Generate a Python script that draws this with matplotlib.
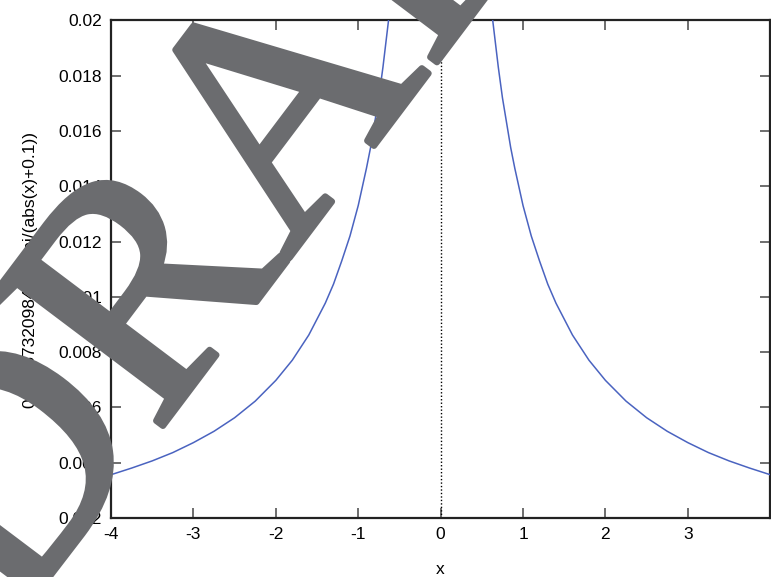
import numpy as np
import matplotlib
matplotlib.use('Agg')
import matplotlib.pyplot as plt
import matplotlib.patheffects as pe

# values (right half, mirrored for the left half)
x_right = [0.0, 0.3, 0.5, 0.62, 0.66, 0.7, 0.75, 0.8, 0.85, 0.9, 1.0, 1.1, 1.2, 1.3, 1.4,
           1.6, 1.8, 2.0, 2.25, 2.5, 2.75, 3.0, 3.25, 3.5, 3.75, 4.0]
y_right = [0.1465, 0.0366, 0.0244, 0.0203, 0.0193, 0.0183, 0.0172, 0.0163, 0.0154, 0.01465,
           0.0133, 0.0122, 0.0113, 0.01046, 0.00977, 0.00862, 0.00771, 0.00698, 0.00623,
           0.00563, 0.00514, 0.00473, 0.00437, 0.00407, 0.00381, 0.00357]

x_ticks = [-4, -3, -2, -1, 0, 1, 2, 3]
y_ticks = [0.002, 0.004, 0.006, 0.008, 0.01, 0.012, 0.014, 0.016, 0.018, 0.02]
y_ticklabels = ['0.002', '0.004', '0.006', '0.008', '0.01', '0.012', '0.014', '0.016', '0.018', '0.02']

ylabel = '0.004673209848*(%pi/(abs(x)+0.1))'
watermark = 'DRAFT'

x = [-v for v in x_right[::-1]] + x_right[1:]
y = y_right[::-1] + y_right[1:]

plt.rcParams['font.family'] = ['Liberation Sans', 'DejaVu Sans']

fig = plt.figure(figsize=(7.71, 5.77), dpi=100)
ax = fig.add_axes([0.144, 0.102, 0.855, 0.863])

ax.plot(x, y, color='#4a63c0', lw=1.1, zorder=3)
ax.axvline(0, color='black', lw=1.0, ls=(0, (1, 1.5)), zorder=2)

ax.set_xlim(-4, 4)
ax.set_ylim(0.002, 0.02)
ax.set_xticks(x_ticks)
ax.set_xticklabels([str(t) for t in x_ticks])
ax.set_yticks(y_ticks)
ax.set_yticklabels(y_ticklabels)
ax.tick_params(direction='in', length=7, width=1.2, color='#555555', labelsize=12.5,
               top=True, right=True, pad=6.5)
for s in ax.spines.values():
    s.set_linewidth(1.6)
    s.set_color('#222222')

ax.set_xlabel('x', fontsize=12.5, labelpad=14)
ax.set_ylabel(ylabel, fontsize=12.5, labelpad=15)

# big grey watermark over everything
wm = fig.text(0.437, 0.662, watermark, fontsize=236, family='Liberation Serif',
              color='#6b6c6f', rotation=53, rotation_mode='anchor',
              ha='center', va='baseline', zorder=10)
wm.set_path_effects([pe.withStroke(linewidth=4.5, foreground='#6b6c6f')])

plt.savefig('out.png', dpi=100)
